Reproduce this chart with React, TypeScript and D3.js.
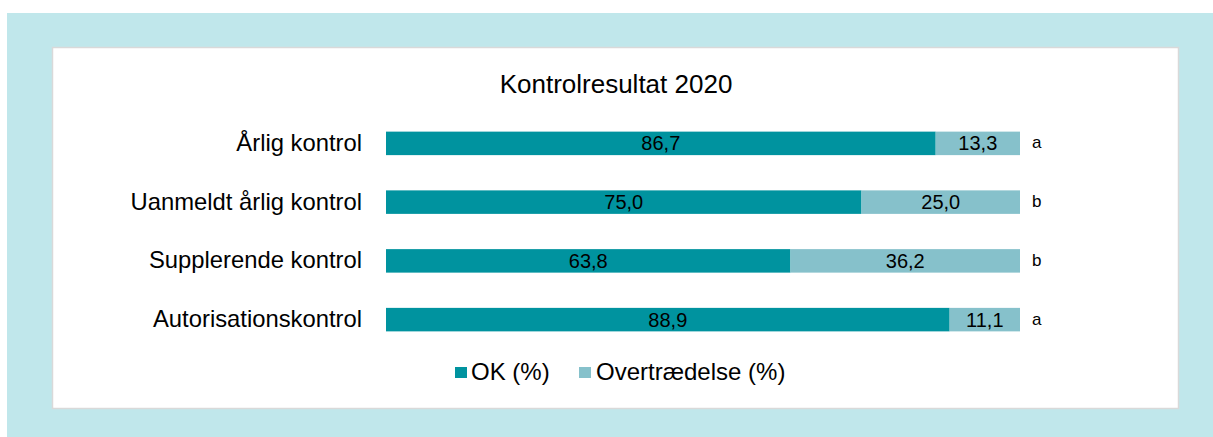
import React from "react";
import * as d3 from "d3";

const categories = ["Årlig kontrol", "Uanmeldt årlig kontrol", "Supplerende kontrol", "Autorisationskontrol"];
const okValues = [86.7, 75.0, 63.8, 88.9];
const violationValues = [13.3, 25.0, 36.2, 11.1];
const letters = ["a", "b", "b", "a"];
const seriesNames = ["OK (%)", "Overtrædelse (%)"];
const colors = ["#00939F", "#86C1CB"];

export default function App() {
  const W = 1213, H = 437;
  const x = d3.scaleLinear().domain([0, 100]).range([386, 1020]);
  const y = d3.scaleBand().domain(categories).range([114, 349]).paddingInner(0.6).paddingOuter(0.3);
  const fmt = (v: number) => v.toFixed(1).replace(".", ",");
  const bh = y.bandwidth();
  const font = "'Liberation Sans', Arial, sans-serif";
  return (
    <svg width={W} height={H} style={{ position: "absolute", left: 0, top: 0, display: "block" }} fontFamily={font}>
      <rect x={0} y={0} width={W} height={H} fill="#ffffff" />
      <rect x={7} y={13} width={W - 7} height={H - 13} fill="#C0E7EB" />
      <rect x={52.5} y={47.5} width={1126} height={361} fill="#ffffff" stroke="#d9d9d9" strokeWidth={1.5} />
      <text x={616} y={93} textAnchor="middle" fontSize={26} fill="#000">Kontrolresultat 2020</text>
      {categories.map((c, i) => {
        const yy = y(c)!;
        const cy = yy + bh / 2;
        return (
          <g key={c}>
            <text x={362} y={cy + 7.5} textAnchor="end" fontSize={23.8} fill="#000">{c}</text>
            <rect x={x(0)} y={yy} width={x(okValues[i]) - x(0)} height={bh} fill={colors[0]} />
            <rect x={x(okValues[i])} y={yy} width={x(okValues[i] + violationValues[i]) - x(okValues[i])} height={bh} fill={colors[1]} />
            <text x={(x(0) + x(okValues[i])) / 2} y={cy + 7} textAnchor="middle" fontSize={20} fill="#000">{fmt(okValues[i])}</text>
            <text x={(x(okValues[i]) + x(okValues[i] + violationValues[i])) / 2} y={cy + 7} textAnchor="middle" fontSize={20} fill="#000">{fmt(violationValues[i])}</text>
            <text x={1032} y={cy + 5} fontSize={17} fill="#000">{letters[i]}</text>
          </g>
        );
      })}
      <g>
        <rect x={455} y={367} width={12} height={11} fill={colors[0]} />
        <text x={471} y={380} fontSize={24} fill="#000">{seriesNames[0]}</text>
        <rect x={579} y={367} width={12} height={11} fill={colors[1]} />
        <text x={596} y={380} fontSize={24} fill="#000">{seriesNames[1]}</text>
      </g>
    </svg>
  );
}
